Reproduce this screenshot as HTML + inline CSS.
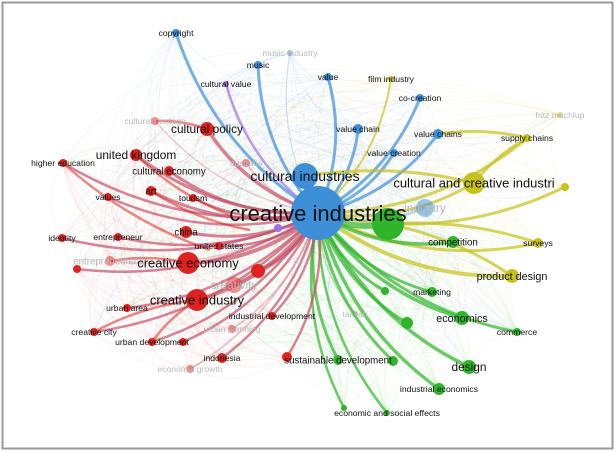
<!DOCTYPE html>
<html><head><meta charset="utf-8"><style>
html,body{margin:0;padding:0;background:#fff;width:616px;height:452px;overflow:hidden}
svg{display:block;font-family:"Liberation Sans","DejaVu Sans",sans-serif}
</style></head><body>
<svg id="s" width="616" height="452" viewBox="0 0 616 452">
<rect x="2.5" y="2.5" width="610" height="446" fill="#fff" stroke="#9a9a9a" stroke-width="2"/>
<g id="bg"></g><g id="ed"></g><g id="nd"></g><g id="lb"></g>
</svg>
<script>
var C={b:'#3d8fd8',r:'#e0221e',g:'#2fb52a',y:'#c6c21a',p:'#a070e0'};
var N=[
[176,33,4,'b','copyright',8,1,0,3],
[258,65,4,'b','music',8,1,0,3],
[290,53,3,'b','music industry',8,1,1,1],
[328,77,4,'b','value',8,1,0,3],
[226,84,3,'p','cultural value',8,1,0,2.5],
[358,129,5,'b','value chain',8,1,0,3],
[438,134,5,'b','value chains',8,1,0,3],
[420,98,4,'b','co-creation',8,1,0,3],
[394,153,4,'b','value creation',8,1,0,3],
[391,79,3,'y','film industry',8,1,0,2],
[527,138,4,'y','supply chains',8,1,0,3],
[560,115,3,'y','fritz machlup',8,1,1,0.8],
[474,183,11,'y','cultural and creative industri',12,1,0,3],
[565,187,4,'y','',8,1,0,3],
[538,243,5,'y','surveys',8,1,0,3],
[512,276,7,'y','product design',10,1,0,4],
[453,242,6,'g','competition',9,1,0,3.5],
[432,292,5,'g','marketing',8,1,0,3],
[462,318,7,'g','economics',10,1,0,3.5],
[517,332,4,'g','commerce',8,1,0,3],
[469,367,7,'g','design',11,1,0,3.5],
[439,389,6,'g','industrial economics',8,1,0,3.5],
[387,413,3,'g','economic and social effects',8,1,0,2.5],
[338,360,5,'g','sustainable development',9,1,0,3],
[393,361,5,'g','',8,1,0,3],
[407,323,6,'g','',8,1,0,3],
[385,291,4,'g','',8,1,0,3],
[355,314,3,'g','taiwan',8,1,1,2],
[344,408,3,'g','',8,1,0,2.5],
[425,208,9,'b','industry',11,1,1,3],
[305,176,13,'b','cultural industries',13,1,0,5],
[388,224,16,'g','',8,1,0,6],
[207,129,7,'r','cultural policy',11,1,0,3.5],
[136,155,6,'r','united kingdom',11,1,0,3],
[169,171,5,'r','cultural economy',9,1,0,3],
[151,191,5,'r','art',9,1,0,3],
[193,198,4,'r','tourism',8,1,0,2.5],
[108,197,4,'r','values',8,1,0,2.5],
[63,163,4,'r','higher education',8,1,0,2.5],
[155,121,4,'r','cultural heritage',8,1,1,1.5],
[246,163,4,'r','australia',8,1,1,2],
[62,238,4,'r','identity',8,1,0,2.5],
[118,237,4,'r','entrepreneur',8,1,0,2.5],
[186,232,6,'r','china',9,1,0,3],
[219,246,4,'r','united states',8,1,0,2.5],
[110,261,5,'r','entrepreneurship',9,1,1,2],
[77,269,4,'r','',8,1,0,2.5],
[188,263,11,'r','creative economy',12,1,0,4],
[258,271,7,'r','',8,1,0,3.5],
[234,285,8,'r','creativity',11,1,1,3.5],
[197,300,11,'r','creative industry',12,1,0,4],
[127,308,4,'r','urban area',8,1,0,2.5],
[94,332,4,'r','creative city',8,1,0,2.5],
[152,342,4,'r','urban development',8,1,0,2.5],
[183,342,4,'r','',8,1,0,2.5],
[272,316,4,'r','industrial development',8,1,0,2.5],
[232,329,4,'r','urban planning',8,1,1,2],
[222,358,5,'r','indonesia',8,1,0,2.5],
[190,369,4,'r','economic growth',8,1,1,2],
[287,357,5,'r','',8,1,0,2.5],
[278,228,4,'p','',8,1,0,2]
];
var cx=318,cy=213,ns='http://www.w3.org/2000/svg';
function el(t,a,p){var e=document.createElementNS(ns,t);for(var k in a)e.setAttribute(k,a[k]);document.getElementById(p).appendChild(e);return e;}
function curve(x1,y1,x2,y2,b){var mx=(x1+x2)/2,my=(y1+y2)/2,dx=x2-x1,dy=y2-y1;return 'M'+x1+' '+y1+' Q'+(mx-dy*b)+' '+(my+dx*b)+' '+x2+' '+y2;}
var seed=7;function rnd(){seed=(seed*9301+49297)%233280;return seed/233280;}
for(var i=0;i<N.length;i++){for(var j=i+1;j<N.length;j++){if(rnd()<0.25){var a=N[i],b=N[j];
el('path',{d:curve(a[0],a[1],b[0],b[1],0.3),fill:'none',stroke:C[a[3]],'stroke-opacity':0.06,'stroke-width':1},'bg');}}}
N.forEach(function(n){var bend=(n[0]<cx)?-0.18:0.18;
 el('path',{d:curve(cx,cy,n[0],n[1],bend),fill:'none',stroke:n[3]=='r'?'#c8506a':C[n[3]],'stroke-opacity':n[7]?0.3:0.7,'stroke-width':n[8]},'ed');});
[[474,183,527,138],[438,134,527,138],[388,224,538,243],[388,224,512,276],[305,176,474,183]].forEach(function(e){
 el('path',{d:curve(e[0],e[1],e[2],e[3],-0.1),fill:'none',stroke:C.y,'stroke-opacity':0.7,'stroke-width':3},'ed');});
[[207,129,155,121],[136,155,230,215],[63,163,210,250],[151,191,250,230],[188,263,110,261],[197,300,94,332],[197,300,152,342]].forEach(function(e){
 el('path',{d:curve(e[0],e[1],e[2],e[3],0.1),fill:'none',stroke:C.r,'stroke-opacity':0.55,'stroke-width':2.5},'ed');});
N.forEach(function(n){el('circle',{cx:n[0],cy:n[1],r:n[2],fill:C[n[3]],'fill-opacity':n[7]?0.5:1},'nd');});
el('circle',{cx:cx,cy:cy,r:27,fill:'#3d8fd8'},'nd');
N.forEach(function(n){if(!n[4])return;var fs=n[5]*1.08;var t=el('text',{x:n[0],y:n[1]+fs*0.35,'text-anchor':'middle','font-size':fs,fill:n[7]?'#b8b8b8':'#111'},'lb');t.textContent=n[4];});
var t=el('text',{x:cx,y:cy+8,'text-anchor':'middle','font-size':22,fill:'#111'},'lb');t.textContent='creative industries';
</script>
</body></html>
